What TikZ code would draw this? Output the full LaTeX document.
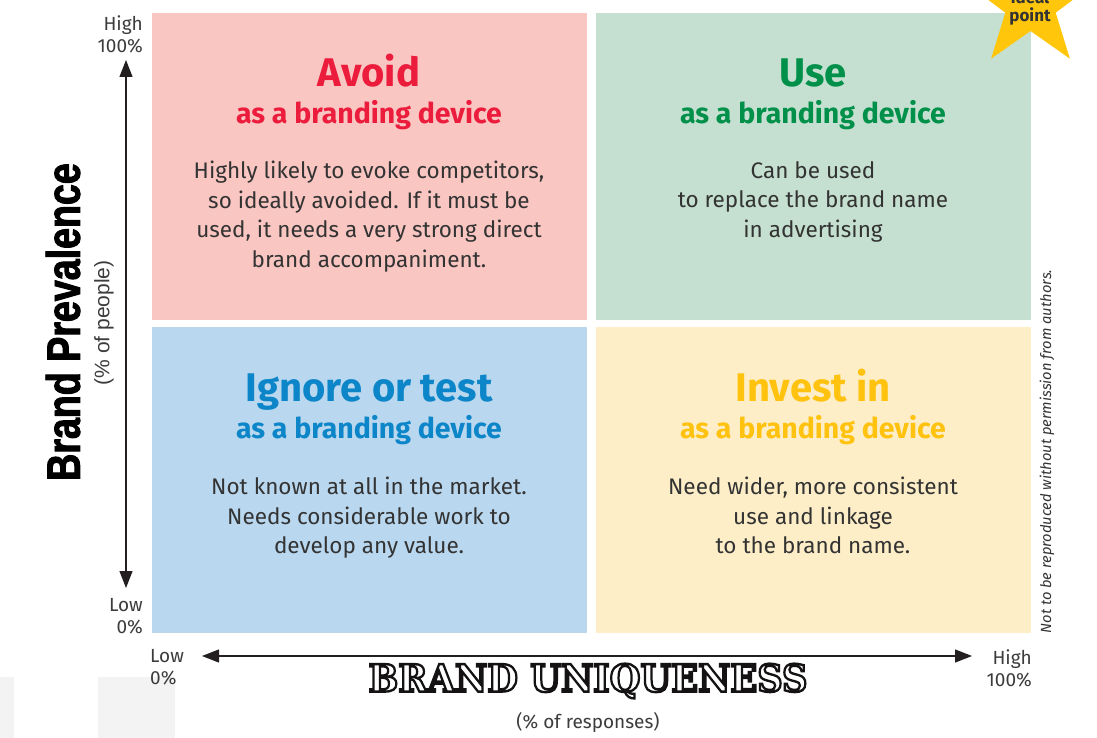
\documentclass[tikz,border=0pt]{standalone}
\usepackage{fontspec}
\setmainfont{Fira Sans}
\newfontfamily\heavyfont{Liberation Sans}[FakeStretch=0.8, BoldFeatures={FakeBold=2}]
\newfontfamily\helvfont{Liberation Sans}
\newfontfamily\slabfont{DejaVu Serif}
\usetikzlibrary{arrows.meta}

% hollow lettering: white fill, dark stroke round each glyph
\newcommand\hollowtext[1]{%
  \textcolor{white}{\special{pdf:literal q 2 Tr 2.4 w 0.08 0.07 0.07 RG}#1\special{pdf:literal Q}}}

\definecolor{avoidbg}{HTML}{F9C6C2}
\definecolor{usebg}{HTML}{C5E0D0}
\definecolor{ignorebg}{HTML}{B9D7EE}
\definecolor{investbg}{HTML}{FDEEC8}
\definecolor{avoidfg}{HTML}{EC1C3D}
\definecolor{usefg}{HTML}{00904A}
\definecolor{ignorefg}{HTML}{0C86C8}
\definecolor{investfg}{HTML}{FFC20E}
\definecolor{bodytext}{HTML}{333333}
\definecolor{labeltext}{HTML}{3C3C3C}
\definecolor{axisline}{HTML}{231F20}
\definecolor{idealstar}{HTML}{FFC60B}
\definecolor{pagegrey}{HTML}{F3F3F3}

\tikzset{
  title/.style={font=\fontsize{40}{44}\selectfont\bfseries, anchor=base, inner sep=0pt},
  subtitle/.style={font=\fontsize{28.5}{31}\selectfont\bfseries, anchor=base, inner sep=0pt},
  body/.style={font=\fontsize{22.5}{29.5}\selectfont, text=bodytext, align=center, anchor=north, inner sep=0pt},
  axislbl/.style={font=\fontsize{19}{22.5}\selectfont, text=labeltext, inner sep=0pt},
  axisarrow/.style={draw=axisline, line width=1.3pt,
    {Triangle[length=17pt,width=13pt]}-{Triangle[length=17pt,width=13pt]}},
}

\begin{document}
\begin{tikzpicture}[x=1pt, y=-1pt]
\useasboundingbox (0,0) rectangle (1097,738);
\clip (0,0) rectangle (1097,738);

% light grey page patches, lower left
\fill[pagegrey] (0,677) rectangle (14,738);
\fill[pagegrey] (98,677) rectangle (175,738);

% the four quadrants
\fill[avoidbg]  (151.7,13)  rectangle (586.7,320);
\fill[usebg]    (595.7,13)  rectangle (1030.7,320);
\fill[ignorebg] (151.7,327) rectangle (586.7,633);
\fill[investbg] (595.7,327) rectangle (1030.7,633);

% top left: avoid
\node[title, text=avoidfg] (avoidT) at (369,87) {Avoid};
\node[subtitle, text=avoidfg] (avoidS) at (369,124) {as a branding device};
\node[body] (avoidB) at (369,161) {Highly likely to evoke competitors,\\so ideally avoided. If it must be\\used, it needs a very strong direct\\brand accompaniment.};

% top right: use
\node[title, text=usefg] (useT) at (813,87) {Use};
\node[subtitle, text=usefg] (useS) at (813,124) {as a branding device};
\node[body] (useB) at (813,161) {Can be used\\to replace the brand name\\in advertising};

% bottom left: ignore or test
\node[title, text=ignorefg] (ignoreT) at (369,401) {Ignore or test};
\node[subtitle, text=ignorefg] (ignoreS) at (369,438) {as a branding device};
\node[body] (ignoreB) at (369,477) {Not known at all in the market.\\Needs considerable work to\\develop any value.};

% bottom right: invest in
\node[title, text=investfg] (investT) at (813,401) {Invest in};
\node[subtitle, text=investfg] (investS) at (813,438) {as a branding device};
\node[body] (investB) at (813,477) {Need wider, more consistent\\use and linkage\\to the brand name.};

% ideal point star
\fill[idealstar] (1030.5,-62.5) -- (1014.9,-16.9) -- (966.8,-16.2) -- (1005.3,12.7)
  -- (991.1,58.7) -- (1030.5,31.0) -- (1069.9,58.7) -- (1055.7,12.7)
  -- (1094.2,-16.2) -- (1046.1,-16.9) -- cycle;
\node[font=\fontsize{17}{18}\selectfont\bfseries, text=bodytext, align=center,
      anchor=north, inner sep=0pt] (ideal) at (1030,-10) {ideal\\point};

% vertical axis
\coordinate (ytop) at (126,60);
\coordinate (ybot) at (126,588);
\draw[axisarrow] (ybot) -- (ytop);
\node[axislbl, align=right, anchor=north east] (yhigh) at (143,15) {High\\100\%};
\node[axislbl, align=right, anchor=north east] (ylow) at (143,598) {Low\\0\%};
\node[font=\heavyfont\bfseries\fontsize{47}{47}\selectfont, rotate=90, inner sep=0pt] (ytitle) at (63,322) {Brand Prevalence};
\node[font=\helvfont\fontsize{21}{22}\selectfont, text=labeltext, rotate=90, inner sep=0pt] (yunit) at (104,323) {(\% of people)};

% horizontal axis
\coordinate (xleft) at (202,656);
\coordinate (xright) at (972,656);
\draw[axisarrow] (xleft) -- (xright);
\node[axislbl, align=left, anchor=north west] (xlow) at (150,649) {Low\\0\%};
\node[axislbl, align=right, anchor=north east] (xhigh) at (1032,649) {High\\100\%};
\node[inner sep=0pt] (xtitle) at (588,681)
  {\resizebox{439pt}{28pt}{\slabfont\bfseries\fontsize{38}{38}\selectfont\hollowtext{BRAND UNIQUENESS}}};
\node[axislbl] (xunit) at (588,722) {(\% of responses)};

% copyright note
\node[font=\fontsize{14.7}{16}\selectfont\itshape, text=bodytext, rotate=90, inner sep=0pt] (note) at (1047,451.5)
  {Not to be reproduced without permission from authors.};
\end{tikzpicture}
\end{document}
